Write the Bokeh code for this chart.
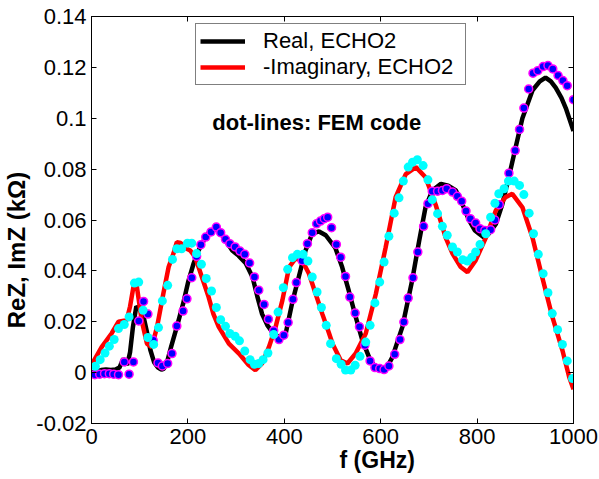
import math
from bokeh.plotting import figure
from bokeh.models import Range1d, FixedTicker, LinearAxis, Legend, LegendItem, Label
from bokeh.embed import file_html
from bokeh.resources import INLINE

# ---- data ----
f_real = [0, 10, 20, 30, 40, 50, 58, 66, 74, 80, 86, 93, 100, 108, 115, 122, 130, 138, 145, 150,
          158, 165, 177, 190, 201, 212, 222, 233, 243, 257, 268, 278, 292, 305, 320, 334, 344, 354,
          365, 375, 385, 395, 403, 417, 430, 444, 458, 472, 486, 506, 520, 534, 548, 562, 576, 590,
          600, 610, 624, 645, 665, 680, 693, 707, 725, 740, 756, 770, 783, 795, 804, 815, 824, 839,
          852, 866, 880, 894, 915, 930, 942, 953, 963, 975, 984, 1000]
re_echo = [0.0, 0.0005, 0.001, 0.0012, 0.001, 0.0012, 0.002, 0.0055, 0.003, 0.008, 0.018, 0.026,
           0.025, 0.022, 0.016, 0.009, 0.004, 0.002, 0.0012, 0.0015, 0.005, 0.010, 0.018, 0.027,
           0.036, 0.043, 0.048, 0.052, 0.055, 0.0565, 0.055, 0.052, 0.048, 0.046, 0.043, 0.0376,
           0.030, 0.023, 0.0186, 0.016, 0.0145, 0.0135, 0.0155, 0.028, 0.0376, 0.048, 0.0547,
           0.0555, 0.054, 0.049, 0.0415, 0.032, 0.022, 0.0127, 0.006, 0.0015, 0.001, 0.001, 0.006,
           0.018, 0.036, 0.052, 0.065, 0.0716, 0.0742, 0.0735, 0.0716, 0.066, 0.060, 0.056, 0.0546,
           0.053, 0.0546, 0.0585, 0.066, 0.077, 0.0886, 0.100, 0.111, 0.1145, 0.116, 0.1145, 0.112,
           0.108, 0.104, 0.095]

f_imag = [0, 21, 42, 56, 73, 80, 87, 94, 104, 115, 125, 136, 149, 160, 170, 177, 185, 194, 205,
          215, 229, 243, 253, 264, 285, 306, 326, 340, 354, 368, 382, 396, 410, 423, 437, 451, 465,
          479, 493, 500, 517, 531, 548, 569, 590, 610, 631, 652, 673, 693, 714, 735, 749, 766, 780,
          797, 818, 839, 859, 873, 894, 915, 935, 956, 977, 991, 1000]
im_echo = [0.003, 0.010, 0.0155, 0.020, 0.0206, 0.026, 0.0337, 0.034, 0.0206, 0.0114, 0.010, 0.018,
           0.031, 0.0415, 0.0468, 0.0513, 0.051, 0.049, 0.048, 0.0455, 0.0376, 0.0297, 0.023, 0.018,
           0.0114, 0.0075, 0.003, 0.001, 0.0036, 0.010, 0.018, 0.0284, 0.0415, 0.0448, 0.0441,
           0.039, 0.031, 0.023, 0.0154, 0.0114, 0.0049, 0.0036, 0.0075, 0.0154, 0.031, 0.049, 0.069,
           0.078, 0.0808, 0.0768, 0.066, 0.053, 0.0468, 0.0415, 0.0395, 0.0441, 0.053, 0.0638,
           0.069, 0.0703, 0.065, 0.053, 0.0376, 0.022, 0.0088, -0.0017, -0.0065]

f_fem_re = [7, 17, 27, 37, 46, 56, 68, 78, 87, 98, 108, 117, 128, 138, 147, 158, 167, 177, 190, 198,
            208, 218, 227, 237, 248, 259, 268, 278, 287, 298, 308, 318, 328, 338, 347, 358, 367, 378,
            389, 399, 408, 418, 425, 437, 448, 458, 467, 475, 483, 490, 498, 508, 517, 527, 536, 547,
            556, 567, 578, 588, 598, 607, 617, 629, 640, 648, 657, 667, 677, 689, 698, 707, 718, 728,
            737, 749, 759, 768, 777, 786, 797, 806, 816, 828, 837, 846, 866, 879, 888, 897, 907, 916,
            926, 937, 947, 957, 968, 978, 987, 1000]
re_fem = [-0.0008, -0.0006, -0.0004, -0.0004, -0.0006, -0.0008, 0.0042, -0.0006, 0.0042, 0.0203,
          0.028, 0.023, 0.0127, 0.0038, 0.0026, 0.0036, 0.0075, 0.0183, 0.0242, 0.029, 0.0373,
          0.0457, 0.0503, 0.0533, 0.0553, 0.0572, 0.055, 0.0524, 0.0507, 0.0494, 0.0478, 0.0465,
          0.0431, 0.0376, 0.0324, 0.0268, 0.021, 0.0165, 0.013, 0.0147, 0.0197, 0.0288, 0.0354,
          0.044, 0.0507, 0.055, 0.0585, 0.0596, 0.0605, 0.0611, 0.057, 0.0504, 0.0454, 0.0378,
          0.0297, 0.0234, 0.018, 0.0108, 0.0046, 0.002, 0.0016, 0.0012, 0.0026, 0.0072, 0.013,
          0.0199, 0.0293, 0.0373, 0.0474, 0.0575, 0.0664, 0.0713, 0.0713, 0.0716, 0.0723, 0.071,
          0.0693, 0.0674, 0.0635, 0.0605, 0.0588, 0.0566, 0.0559, 0.0562, 0.060, 0.066, 0.0784,
          0.0873, 0.0956, 0.104, 0.1115, 0.1177, 0.1187, 0.1203, 0.1207, 0.1194, 0.1168, 0.1148,
          0.1128, 0.1073]

f_fem_im = [8, 18, 28, 37, 47, 56, 68, 78, 89, 98, 107, 117, 129, 139, 147, 158, 168, 177, 187, 199,
            208, 218, 228, 238, 249, 259, 268, 278, 287, 298, 307, 318, 329, 338, 347, 356, 366, 378,
            387, 398, 407, 417, 427, 439, 449, 458, 468, 477, 487, 496, 508, 518, 527, 538, 547, 557,
            569, 578, 588, 598, 607, 617, 628, 638, 647, 657, 666, 676, 688, 698, 707, 718, 728, 738,
            749, 759, 770, 780, 789, 797, 806, 818, 828, 837, 845, 856, 865, 877, 888, 897, 908, 917,
            927, 937, 947, 956, 967, 977, 987, 998]
im_fem = [0.0025, 0.0051, 0.0077, 0.0104, 0.013, 0.0173, 0.0189, 0.0219, 0.0352, 0.0356, 0.0245,
          0.0138, 0.0111, 0.0177, 0.0282, 0.0343, 0.0445, 0.0487, 0.0487, 0.0509, 0.0509, 0.0468,
          0.0426, 0.037, 0.0321, 0.0256, 0.0208, 0.0182, 0.0154, 0.0143, 0.0125, 0.0085, 0.0051,
          0.0033, 0.0036, 0.0051, 0.0077, 0.015, 0.0238, 0.0334, 0.0406, 0.0452, 0.0465, 0.0465,
          0.0439, 0.0376, 0.0317, 0.0256, 0.0186, 0.0114, 0.0055, 0.0033, 0.001, 0.001, 0.0029,
          0.0064, 0.012, 0.0186, 0.0274, 0.0356, 0.0435, 0.0536, 0.0627, 0.0687, 0.0753, 0.0808,
          0.0827, 0.0837, 0.0814, 0.0758, 0.068, 0.0625, 0.0575, 0.054, 0.0494, 0.0474, 0.0444,
          0.0439, 0.0454, 0.0474, 0.0504, 0.0546, 0.0611, 0.0666, 0.0703, 0.0723, 0.0753, 0.0753,
          0.0736, 0.070, 0.0627, 0.0546, 0.0465, 0.0389, 0.0314, 0.0232, 0.0169, 0.0111, 0.0046,
          -0.0023]

x_ticks = [0.0, 200.0, 400.0, 600.0, 800.0, 1000.0]
x_tick_labels = ["0", "200", "400", "600", "800", "1000"]
y_ticks = [-0.02, 0.0, 0.02, 0.04, 0.06, 0.08, 0.1, 0.12, 0.14]
y_tick_labels = ["-0.02", "0", "0.02", "0.04", "0.06", "0.08", "0.1", "0.12", "0.14"]

legend_labels = ["Real, ECHO2", "-Imaginary, ECHO2"]
note_text = "dot-lines: FEM code"
x_title = "f (GHz)"
y_title = "ReZ, ImZ (k\u03a9)"

FONT = "Liberation Sans"
NBSP = "\u00a0"

p = figure(width=599, height=479, output_backend="svg", toolbar_location=None,
           x_range=Range1d(0, 1000), y_range=Range1d(-0.02, 0.14),
           min_border_left=91, min_border_right=26, min_border_top=16, min_border_bottom=56)
p.grid.visible = False
p.outline_line_color = "black"
p.outline_line_width = 1
p.background_fill_color = "white"
p.border_fill_color = "white"

bottom_ax = p.below[0]
left_ax = p.left[0]

def style_axis(ax, ticks, labels, show_labels=True, standoff=5):
    ax.ticker = FixedTicker(ticks=ticks)
    ax.major_label_overrides = {float(t): l for t, l in zip(ticks, labels)}
    ax.axis_line_color = "black"
    ax.major_tick_line_color = "black"
    ax.major_tick_in = 5
    ax.major_tick_out = 0
    ax.minor_tick_line_color = None
    ax.major_label_text_font = FONT
    ax.major_label_text_font_size = "22px" if show_labels else "1px"
    ax.major_label_text_color = "black" if show_labels else None
    ax.major_label_standoff = standoff if show_labels else 0

style_axis(bottom_ax, x_ticks, x_tick_labels, standoff=5)
style_axis(left_ax, y_ticks, y_tick_labels, standoff=5)
top_ax = LinearAxis()
right_ax = LinearAxis()
style_axis(top_ax, x_ticks, x_tick_labels, show_labels=False)
style_axis(right_ax, y_ticks, y_tick_labels, show_labels=False)
p.add_layout(top_ax, "above")
p.add_layout(right_ax, "right")

# axis titles (padding with no-break spaces shifts them like in the original)
bottom_ax.axis_label = NBSP * 14 + x_title
bottom_ax.axis_label_text_font = FONT
bottom_ax.axis_label_text_font_size = "23px"
bottom_ax.axis_label_text_font_style = "bold"
bottom_ax.axis_label_text_color = "black"
bottom_ax.axis_label_standoff = 0
left_ax.axis_label = y_title + NBSP * 9
left_ax.axis_label_text_font = FONT
left_ax.axis_label_text_font_size = "24px"
left_ax.axis_label_text_font_style = "bold"
left_ax.axis_label_text_color = "black"
left_ax.axis_label_standoff = 3

r_re = p.line(f_real, re_echo, line_color="black", line_width=4.5)
r_im = p.line(f_imag, im_echo, line_color="#ff0000", line_width=4.5)
p.scatter(f_fem_re, re_fem, size=8, fill_color="#0000ff", line_color="#ff00ff", line_width=1.5)
p.scatter(f_fem_im, im_fem, size=9, fill_color="#00ffff", line_color=None)

legend = Legend(items=[LegendItem(label=legend_labels[0], renderers=[r_re]),
                       LegendItem(label=legend_labels[1], renderers=[r_im])],
                location=(104, 338))
legend.label_text_font = FONT
legend.label_text_font_size = "22px"
legend.label_text_color = "black"
legend.padding = 4
legend.spacing = 0
legend.label_height = 24
legend.glyph_height = 24
legend.glyph_width = 45
legend.label_standoff = 18
legend.label_width = 198
legend.border_line_color = "black"
legend.border_line_width = 1
legend.background_fill_color = "white"
legend.background_fill_alpha = 1
p.add_layout(legend)

p.add_layout(Label(x=250.6, y=0.0984, text=note_text, text_font=FONT, text_font_size="22px",
                   text_font_style="bold", text_color="black", text_baseline="alphabetic"))

open("out.html", "w").write(file_html(p, INLINE))
